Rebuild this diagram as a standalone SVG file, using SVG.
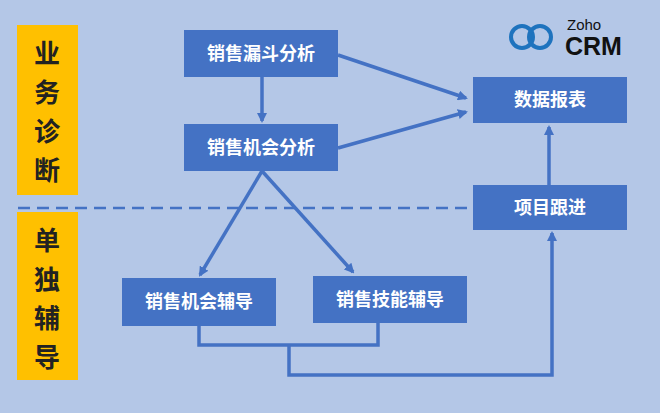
<svg xmlns="http://www.w3.org/2000/svg" width="660" height="413" viewBox="0 0 660 413">
<defs>
<marker id="ah" markerWidth="10" markerHeight="10" refX="8" refY="5" orient="auto" markerUnits="userSpaceOnUse"><path d="M0,0 L10,5 L0,10 z" fill="#4472c4"/></marker>
<style>
.box{fill:#4472c4}
.t{font-family:"Noto Sans CJK SC",sans-serif;font-weight:bold;font-size:18px;fill:#fff;text-anchor:middle}
.side{font-family:"Noto Sans CJK SC",sans-serif;font-weight:bold;font-size:26px;fill:#222;text-anchor:middle}
.c{stroke:#4472c4;stroke-width:3.5;fill:none}
</style>
</defs>
<rect width="660" height="413" fill="#b4c7e7"/>
<g id="side1"><rect x="17" y="25" width="61" height="170" fill="#ffc000"/>
<text class="side" x="47" y="63">业</text><text class="side" x="47" y="102">务</text><text class="side" x="47" y="141">诊</text><text class="side" x="47" y="180">断</text></g>
<g id="side2"><rect x="17" y="212" width="61" height="168" fill="#ffc000"/>
<text class="side" x="47" y="250">单</text><text class="side" x="47" y="289">独</text><text class="side" x="47" y="328">辅</text><text class="side" x="47" y="367">导</text></g>
<g id="logo">
<circle cx="522" cy="37" r="11" fill="none" stroke="#1e73be" stroke-width="4"/>
<circle cx="540" cy="37" r="11" fill="none" stroke="#1e73be" stroke-width="4"/>
<text x="567" y="30" font-family="Liberation Sans,sans-serif" font-size="15" fill="#111">Zoho</text>
<text x="565" y="55" font-family="Liberation Sans,sans-serif" font-size="25" font-weight="bold" fill="#111">CRM</text>
</g>
<g id="connectors">
<line x1="18" y1="208" x2="470" y2="208" stroke="#4472c4" stroke-width="2.5" stroke-dasharray="12,7"/>
<line class="c" x1="262" y1="77" x2="262" y2="121" marker-end="url(#ah)"/>
<line class="c" x1="338" y1="55" x2="466" y2="98" marker-end="url(#ah)"/>
<line class="c" x1="338" y1="148" x2="466" y2="112" marker-end="url(#ah)"/>
<line class="c" x1="262" y1="171" x2="200" y2="275" marker-end="url(#ah)"/>
<line class="c" x1="262" y1="171" x2="353" y2="272" marker-end="url(#ah)"/>
<line class="c" x1="549" y1="185" x2="549" y2="127" marker-end="url(#ah)"/>
<polyline class="c" points="199,326 199,345 378,345 378,323"/>
<polyline class="c" points="289,345 289,375 552,375 552,233" marker-end="url(#ah)"/>
</g>
<g id="n1"><rect class="box" x="184" y="30" width="154" height="47"/><text class="t" x="261" y="60">销售漏斗分析</text></g>
<g id="n2"><rect class="box" x="184" y="124" width="154" height="47"/><text class="t" x="261" y="154">销售机会分析</text></g>
<g id="n3"><rect class="box" x="473" y="77" width="154" height="46"/><text class="t" x="550" y="106">数据报表</text></g>
<g id="n4"><rect class="box" x="473" y="185" width="154" height="45"/><text class="t" x="550" y="214">项目跟进</text></g>
<g id="n5"><rect class="box" x="122" y="278" width="154" height="48"/><text class="t" x="199" y="308">销售机会辅导</text></g>
<g id="n6"><rect class="box" x="313" y="276" width="154" height="47"/><text class="t" x="390" y="306">销售技能辅导</text></g>
</svg>
